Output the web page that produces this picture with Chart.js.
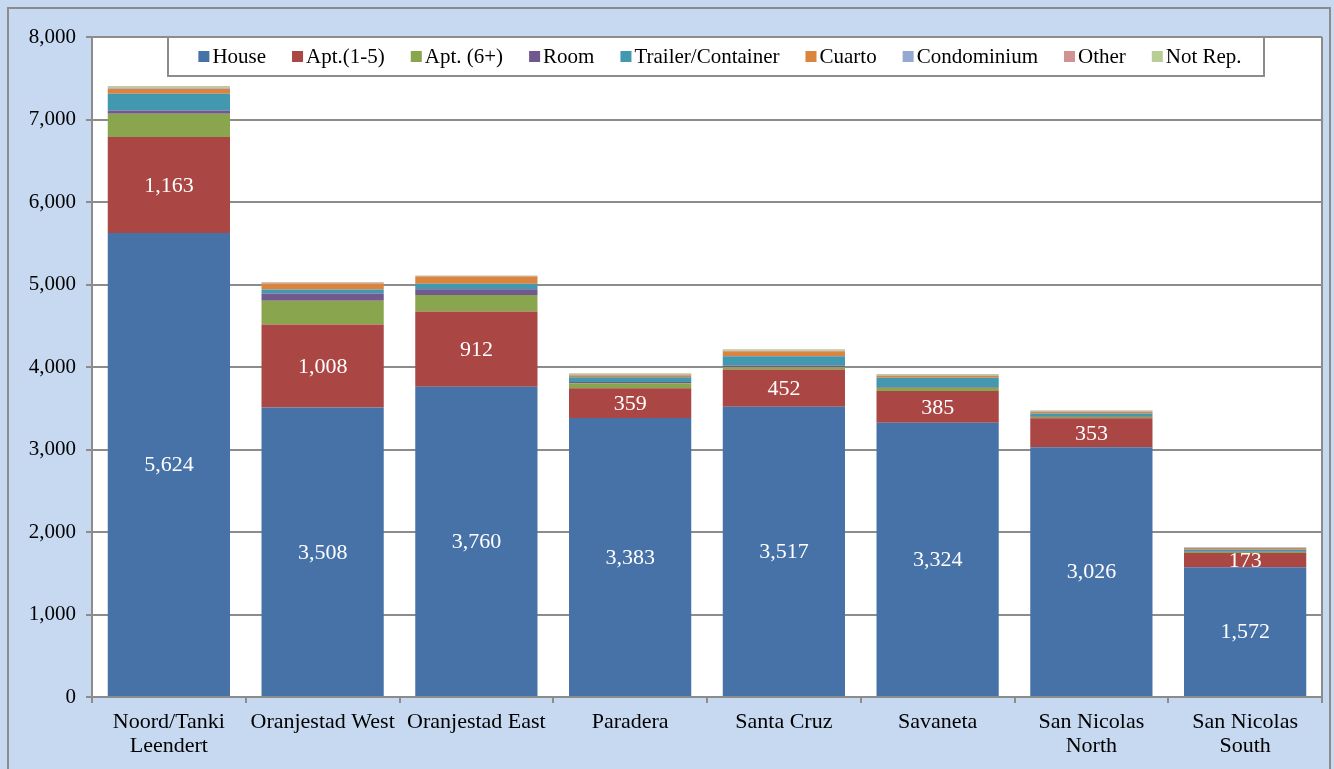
<!DOCTYPE html>
<html>
<head>
<meta charset="utf-8">
<script src="https://cdn.jsdelivr.net/npm/chart.js@4/dist/chart.umd.min.js"></script>
<style>
  html, body { margin: 0; padding: 0; background: #fff; }
  #wrap { width: 1334px; height: 769px; position: relative; }
</style>
</head>
<body>
<div id="wrap"><canvas id="chart" width="1334" height="769"></canvas></div>
<script>
const districts = [
    ['Noord/Tanki', 'Leendert'], 'Oranjestad West', 'Oranjestad East', 'Paradera',
    'Santa Cruz', 'Savaneta', ['San Nicolas', 'North'], ['San Nicolas', 'South']
];
const house     = [5624, 3508, 3760, 3383, 3517, 3324, 3026, 1572];
const apt15     = [1163, 1008, 912, 359, 452, 385, 353, 173];
const apt6      = [283, 287, 202, 61, 32, 40, 18, 12];
const room      = [40, 89, 69, 16, 16, 8, 10, 6];
const trailer   = [202, 48, 65, 57, 113, 113, 30, 24];
const cuarto    = [57, 73, 89, 24, 61, 24, 20, 18];
const condo     = [10, 5, 5, 10, 5, 5, 8, 4];
const other     = [8, 5, 3, 5, 5, 5, 4, 3];
const notRep    = [20, 8, 5, 10, 15, 10, 8, 6];
const yTicks    = [0, 1000, 2000, 3000, 4000, 5000, 6000, 7000, 8000];

const serif = "'Liberation Serif', 'Times New Roman', serif";
const fmt = v => v.toLocaleString('en-US');

const series = [
    {label: 'House', data: house, color: '#4672A8'},
    {label: 'Apt.(1-5)', data: apt15, color: '#AA4644'},
    {label: 'Apt. (6+)', data: apt6, color: '#89A54E'},
    {label: 'Room', data: room, color: '#71588F'},
    {label: 'Trailer/Container', data: trailer, color: '#4198AF'},
    {label: 'Cuarto', data: cuarto, color: '#DB843D'},
    {label: 'Condominium', data: condo, color: '#93A9CF'},
    {label: 'Other', data: other, color: '#D19392'},
    {label: 'Not Rep.', data: notRep, color: '#B9CD96'}
];

// background panel + white plot area
const backdrop = {
    id: 'backdrop',
    beforeDraw(chart) {
        const {ctx, chartArea: a} = chart;
        ctx.save();
        ctx.fillStyle = '#C6D9F1';
        ctx.fillRect(0, 0, chart.width, chart.height);
        ctx.strokeStyle = '#8C8C8C';
        ctx.lineWidth = 2;
        ctx.strokeRect(8, 8, chart.width - 12, chart.height + 10);
        ctx.fillStyle = '#FFFFFF';
        ctx.fillRect(a.left, a.top, a.right - a.left, a.bottom - a.top);
        ctx.restore();
    },
    afterDraw(chart) {
        const {ctx, chartArea: a} = chart;
        ctx.save();
        ctx.strokeStyle = '#8C8C8C';
        ctx.lineWidth = 2;
        ctx.beginPath();
        ctx.moveTo(a.right, a.top);
        ctx.lineTo(a.right, a.bottom);
        ctx.stroke();
        ctx.restore();
    }
};

// white labels on the first two series
const segLabels = {
    id: 'segLabels',
    afterDatasetsDraw(chart) {
        const ctx = chart.ctx;
        ctx.save();
        ctx.fillStyle = '#FFFFFF';
        ctx.font = '22px ' + serif;
        ctx.textAlign = 'center';
        ctx.textBaseline = 'middle';
        [0, 1].forEach(i => {
            chart.getDatasetMeta(i).data.forEach((bar, j) => {
                const y = (bar.y + bar.base) / 2;
                ctx.fillText(fmt(series[i].data[j]), bar.x, y + 1);
            });
        });
        ctx.restore();
    }
};

// legend box drawn inside the plot area
const boxLegend = {
    id: 'boxLegend',
    afterDraw(chart) {
        const ctx = chart.ctx;
        const box = {x: 168, y: 37, w: 1096, h: 39};
        ctx.save();
        ctx.fillStyle = '#FFFFFF';
        ctx.fillRect(box.x, box.y, box.w, box.h);
        ctx.strokeStyle = '#8C8C8C';
        ctx.lineWidth = 2;
        ctx.strokeRect(box.x, box.y, box.w, box.h);
        ctx.font = '21px ' + serif;
        ctx.textBaseline = 'middle';
        const sq = 11, gapIn = 3, gapOut = 26;
        const widths = series.map(s => ctx.measureText(s.label).width);
        const total = widths.reduce((t, w) => t + sq + gapIn + w, 0) + gapOut * (series.length - 1);
        let x = 720 - total / 2;
        const cy = box.y + box.h / 2;
        series.forEach((s, i) => {
            ctx.fillStyle = s.color;
            ctx.fillRect(x, cy - sq / 2, sq, sq);
            x += sq + gapIn;
            ctx.fillStyle = '#000000';
            ctx.fillText(s.label, x, cy + 1);
            x += widths[i] + gapOut;
        });
        ctx.restore();
    }
};

new Chart(document.getElementById('chart'), {
    type: 'bar',
    data: {
        labels: districts,
        datasets: series.map(s => ({
            label: s.label,
            data: s.data,
            backgroundColor: s.color,
            borderWidth: 0,
            barPercentage: 0.795,
            categoryPercentage: 1
        }))
    },
    options: {
        responsive: false,
        animation: false,
        layout: {padding: {left: 0, top: 37, right: 12, bottom: 0}},
        plugins: {
            legend: {display: false},
            tooltip: {enabled: false}
        },
        scales: {
            x: {
                stacked: true,
                afterFit(scale) { scale.height = 72; },
                grid: {
                    drawOnChartArea: false,
                    drawTicks: true,
                    tickLength: 6,
                    color: '#8C8C8C',
                    lineWidth: 2
                },
                border: {color: '#8C8C8C', width: 2},
                ticks: {
                    color: '#000000',
                    font: {family: serif, size: 22, lineHeight: 1.1},
                    padding: 7,
                    maxRotation: 0,
                    autoSkip: false
                }
            },
            y: {
                stacked: true,
                min: 0,
                max: 8000,
                afterFit(scale) { scale.width = 92; },
                afterBuildTicks(scale) { scale.ticks = yTicks.map(v => ({value: v})); },
                grid: {
                    color: '#8C8C8C',
                    lineWidth: 2,
                    tickLength: 6
                },
                border: {color: '#8C8C8C', width: 2},
                ticks: {
                    color: '#000000',
                    font: {family: serif, size: 21},
                    padding: 10,
                    callback: v => fmt(v)
                }
            }
        }
    },
    plugins: [backdrop, segLabels, boxLegend]
});
</script>
</body>
</html>
